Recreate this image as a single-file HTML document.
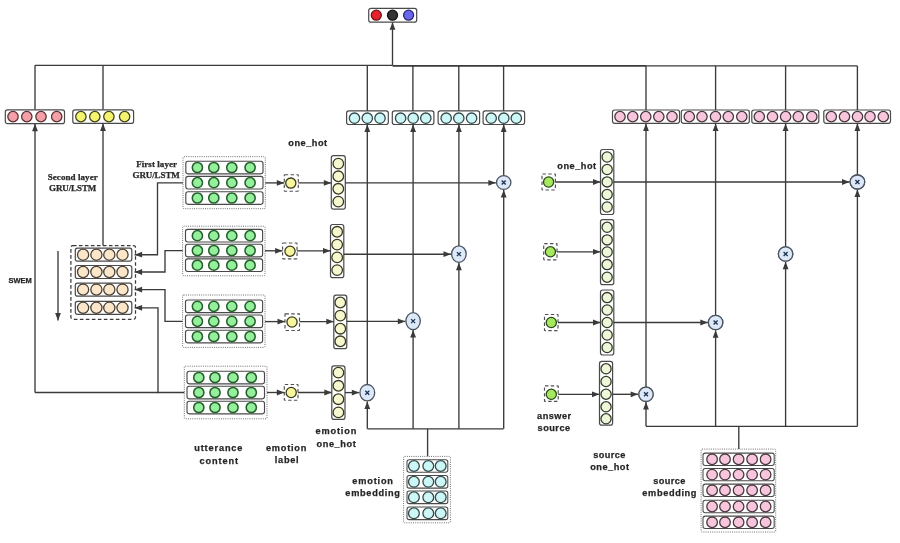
<!DOCTYPE html>
<html><head><meta charset="utf-8"><title>diagram</title>
<style>html,body{margin:0;padding:0;background:#fff;}body{width:900px;height:543px;overflow:hidden;font-family:"Liberation Sans",sans-serif;}svg{display:block;filter:blur(0.4px);}</style>
</head><body>
<svg width="900" height="543" viewBox="0 0 900 543">
<rect x="0" y="0" width="900" height="543" fill="#ffffff"/>
<rect x="368.7" y="8.4" width="48" height="13.7" rx="2.2" fill="#fff" stroke="#4a4a4a" stroke-width="1.2"/>
<circle cx="376.3" cy="15.2" r="5" fill="#e8222c" stroke="#6a1515" stroke-width="1.3"/>
<circle cx="392.5" cy="15.2" r="5" fill="#333333" stroke="#111111" stroke-width="1.3"/>
<circle cx="408.6" cy="15.2" r="5" fill="#6a66ee" stroke="#2a2a70" stroke-width="1.3"/>
<path d="M35 65.3 L392.5 65.3" fill="none" stroke="#3a3a3a" stroke-width="1.35"/>
<path d="M392.5 65.9 L646 65.9" fill="none" stroke="#3a3a3a" stroke-width="1.9"/>
<path d="M646 65.9 L857.4 65.9" fill="none" stroke="#3a3a3a" stroke-width="1.25"/>
<path d="M392.5 65.3 L392.5 22.3" fill="none" stroke="#3a3a3a" stroke-width="1.35"/>
<path d="M392.5 22.3 L395.4 29.8 L389.6 29.8 Z" fill="#3a3a3a"/>
<path d="M35 65.3 L35 109.8" fill="none" stroke="#3a3a3a" stroke-width="1.35"/>
<path d="M103 65.3 L103 109.8" fill="none" stroke="#3a3a3a" stroke-width="1.35"/>
<path d="M367.3 65.3 L367.3 111" fill="none" stroke="#3a3a3a" stroke-width="1.35"/>
<path d="M412.9 65.9 L412.9 111" fill="none" stroke="#3a3a3a" stroke-width="1.35"/>
<path d="M458.8 65.9 L458.8 111" fill="none" stroke="#3a3a3a" stroke-width="1.35"/>
<path d="M503.6 65.9 L503.6 111" fill="none" stroke="#3a3a3a" stroke-width="1.35"/>
<path d="M646 65.9 L646 110" fill="none" stroke="#3a3a3a" stroke-width="1.35"/>
<path d="M715.6 65.9 L715.6 110" fill="none" stroke="#3a3a3a" stroke-width="1.35"/>
<path d="M785.6 65.9 L785.6 110" fill="none" stroke="#3a3a3a" stroke-width="1.35"/>
<path d="M857.4 65.9 L857.4 110" fill="none" stroke="#3a3a3a" stroke-width="1.35"/>
<rect x="5.3" y="109.8" width="59.2" height="13.8" rx="2.2" fill="#fff" stroke="#4a4a4a" stroke-width="1.2"/>
<circle cx="13" cy="116.6" r="5.2" fill="#f5a0a8" stroke="#5a3434" stroke-width="1.3"/>
<circle cx="26.8" cy="116.6" r="5.2" fill="#f5a0a8" stroke="#5a3434" stroke-width="1.3"/>
<circle cx="41" cy="116.6" r="5.2" fill="#f5a0a8" stroke="#5a3434" stroke-width="1.3"/>
<circle cx="56.7" cy="116.6" r="5.2" fill="#f5a0a8" stroke="#5a3434" stroke-width="1.3"/>
<rect x="72.8" y="109.8" width="60.8" height="13.6" rx="2.2" fill="#fff" stroke="#4a4a4a" stroke-width="1.2"/>
<circle cx="80.9" cy="116.6" r="5.2" fill="#f4f46e" stroke="#45451c" stroke-width="1.3"/>
<circle cx="94.8" cy="116.6" r="5.2" fill="#f4f46e" stroke="#45451c" stroke-width="1.3"/>
<circle cx="108.9" cy="116.6" r="5.2" fill="#f4f46e" stroke="#45451c" stroke-width="1.3"/>
<circle cx="124.6" cy="116.6" r="5.2" fill="#f4f46e" stroke="#45451c" stroke-width="1.3"/>
<rect x="346.6" y="110.9" width="41.7" height="13.6" rx="2.2" fill="#fff" stroke="#4a4a4a" stroke-width="1.2"/>
<circle cx="354.5" cy="118.2" r="5.2" fill="#ccf7f6" stroke="#34494a" stroke-width="1.3"/>
<circle cx="367.3" cy="118.2" r="5.2" fill="#ccf7f6" stroke="#34494a" stroke-width="1.3"/>
<circle cx="380" cy="118.2" r="5.2" fill="#ccf7f6" stroke="#34494a" stroke-width="1.3"/>
<rect x="392.3" y="110.9" width="41.6" height="13.6" rx="2.2" fill="#fff" stroke="#4a4a4a" stroke-width="1.2"/>
<circle cx="400.6" cy="118.2" r="5.2" fill="#ccf7f6" stroke="#34494a" stroke-width="1.3"/>
<circle cx="413.2" cy="118.2" r="5.2" fill="#ccf7f6" stroke="#34494a" stroke-width="1.3"/>
<circle cx="425.8" cy="118.2" r="5.2" fill="#ccf7f6" stroke="#34494a" stroke-width="1.3"/>
<rect x="438.1" y="110.9" width="41.5" height="13.6" rx="2.2" fill="#fff" stroke="#4a4a4a" stroke-width="1.2"/>
<circle cx="446.2" cy="118.2" r="5.2" fill="#ccf7f6" stroke="#34494a" stroke-width="1.3"/>
<circle cx="458.8" cy="118.2" r="5.2" fill="#ccf7f6" stroke="#34494a" stroke-width="1.3"/>
<circle cx="471.6" cy="118.2" r="5.2" fill="#ccf7f6" stroke="#34494a" stroke-width="1.3"/>
<rect x="483.1" y="110.9" width="41.5" height="13.6" rx="2.2" fill="#fff" stroke="#4a4a4a" stroke-width="1.2"/>
<circle cx="491.2" cy="118.2" r="5.2" fill="#ccf7f6" stroke="#34494a" stroke-width="1.3"/>
<circle cx="503.8" cy="118.2" r="5.2" fill="#ccf7f6" stroke="#34494a" stroke-width="1.3"/>
<circle cx="516.3" cy="118.2" r="5.2" fill="#ccf7f6" stroke="#34494a" stroke-width="1.3"/>
<rect x="612.5" y="110" width="67" height="13.3" rx="2.2" fill="#fff" stroke="#4a4a4a" stroke-width="1.2"/>
<circle cx="620" cy="116.6" r="5.2" fill="#f7c6dc" stroke="#4a3840" stroke-width="1.3"/>
<circle cx="632.7" cy="116.6" r="5.2" fill="#f7c6dc" stroke="#4a3840" stroke-width="1.3"/>
<circle cx="645.75" cy="116.6" r="5.2" fill="#f7c6dc" stroke="#4a3840" stroke-width="1.3"/>
<circle cx="658.8" cy="116.6" r="5.2" fill="#f7c6dc" stroke="#4a3840" stroke-width="1.3"/>
<circle cx="672" cy="116.6" r="5.2" fill="#f7c6dc" stroke="#4a3840" stroke-width="1.3"/>
<rect x="681.3" y="110" width="68" height="13.3" rx="2.2" fill="#fff" stroke="#4a4a4a" stroke-width="1.2"/>
<circle cx="689.3" cy="116.6" r="5.2" fill="#f7c6dc" stroke="#4a3840" stroke-width="1.3"/>
<circle cx="702" cy="116.6" r="5.2" fill="#f7c6dc" stroke="#4a3840" stroke-width="1.3"/>
<circle cx="715.5" cy="116.6" r="5.2" fill="#f7c6dc" stroke="#4a3840" stroke-width="1.3"/>
<circle cx="728.3" cy="116.6" r="5.2" fill="#f7c6dc" stroke="#4a3840" stroke-width="1.3"/>
<circle cx="741.8" cy="116.6" r="5.2" fill="#f7c6dc" stroke="#4a3840" stroke-width="1.3"/>
<rect x="751.8" y="110" width="67" height="13.3" rx="2.2" fill="#fff" stroke="#4a4a4a" stroke-width="1.2"/>
<circle cx="759.3" cy="116.6" r="5.2" fill="#f7c6dc" stroke="#4a3840" stroke-width="1.3"/>
<circle cx="772.5" cy="116.6" r="5.2" fill="#f7c6dc" stroke="#4a3840" stroke-width="1.3"/>
<circle cx="785.6" cy="116.6" r="5.2" fill="#f7c6dc" stroke="#4a3840" stroke-width="1.3"/>
<circle cx="798.3" cy="116.6" r="5.2" fill="#f7c6dc" stroke="#4a3840" stroke-width="1.3"/>
<circle cx="811.8" cy="116.6" r="5.2" fill="#f7c6dc" stroke="#4a3840" stroke-width="1.3"/>
<rect x="823.8" y="110" width="66.7" height="13.3" rx="2.2" fill="#fff" stroke="#4a4a4a" stroke-width="1.2"/>
<circle cx="831.3" cy="116.6" r="5.2" fill="#f7c6dc" stroke="#4a3840" stroke-width="1.3"/>
<circle cx="844.5" cy="116.6" r="5.2" fill="#f7c6dc" stroke="#4a3840" stroke-width="1.3"/>
<circle cx="857.5" cy="116.6" r="5.2" fill="#f7c6dc" stroke="#4a3840" stroke-width="1.3"/>
<circle cx="870" cy="116.6" r="5.2" fill="#f7c6dc" stroke="#4a3840" stroke-width="1.3"/>
<circle cx="883.3" cy="116.6" r="5.2" fill="#f7c6dc" stroke="#4a3840" stroke-width="1.3"/>
<path d="M35 392.5 L35 123.8" fill="none" stroke="#3a3a3a" stroke-width="1.35"/>
<path d="M35 123.8 L37.9 131.3 L32.1 131.3 Z" fill="#3a3a3a"/>
<path d="M103 245.6 L103 123.5" fill="none" stroke="#3a3a3a" stroke-width="1.35"/>
<path d="M103 123.5 L105.9 131 L100.1 131 Z" fill="#3a3a3a"/>
<path d="M503.7 175.6 L503.7 124.4" fill="none" stroke="#3a3a3a" stroke-width="1.35"/>
<path d="M503.7 124.4 L506.6 131.9 L500.8 131.9 Z" fill="#3a3a3a"/>
<path d="M458.9 245.9 L458.9 124.4" fill="none" stroke="#3a3a3a" stroke-width="1.35"/>
<path d="M458.9 124.4 L461.8 131.9 L456 131.9 Z" fill="#3a3a3a"/>
<path d="M413.1 312.6 L413.1 124.4" fill="none" stroke="#3a3a3a" stroke-width="1.35"/>
<path d="M413.1 124.4 L416 131.9 L410.2 131.9 Z" fill="#3a3a3a"/>
<path d="M367.3 384.5 L367.3 124.4" fill="none" stroke="#3a3a3a" stroke-width="1.35"/>
<path d="M367.3 124.4 L370.2 131.9 L364.4 131.9 Z" fill="#3a3a3a"/>
<path d="M857.4 175 L857.4 123.4" fill="none" stroke="#3a3a3a" stroke-width="1.35"/>
<path d="M857.4 123.4 L860.3 130.9 L854.5 130.9 Z" fill="#3a3a3a"/>
<path d="M785.6 246.8 L785.6 123.4" fill="none" stroke="#3a3a3a" stroke-width="1.35"/>
<path d="M785.6 123.4 L788.5 130.9 L782.7 130.9 Z" fill="#3a3a3a"/>
<path d="M715.6 315.3 L715.6 123.4" fill="none" stroke="#3a3a3a" stroke-width="1.35"/>
<path d="M715.6 123.4 L718.5 130.9 L712.7 130.9 Z" fill="#3a3a3a"/>
<path d="M646 387.1 L646 123.4" fill="none" stroke="#3a3a3a" stroke-width="1.35"/>
<path d="M646 123.4 L648.9 130.9 L643.1 130.9 Z" fill="#3a3a3a"/>
<path d="M367.3 428.8 L503.6 428.8" fill="none" stroke="#3a3a3a" stroke-width="1.35"/>
<path d="M503.7 428.8 L503.7 189.9" fill="none" stroke="#3a3a3a" stroke-width="1.35"/>
<path d="M503.7 189.9 L506.6 197.4 L500.8 197.4 Z" fill="#3a3a3a"/>
<path d="M458.9 428.8 L458.9 262.8" fill="none" stroke="#3a3a3a" stroke-width="1.35"/>
<path d="M458.9 262.8 L461.8 270.3 L456 270.3 Z" fill="#3a3a3a"/>
<path d="M413.1 428.8 L413.1 330.1" fill="none" stroke="#3a3a3a" stroke-width="1.35"/>
<path d="M413.1 330.1 L416 337.6 L410.2 337.6 Z" fill="#3a3a3a"/>
<path d="M367.3 428.8 L367.3 401.4" fill="none" stroke="#3a3a3a" stroke-width="1.35"/>
<path d="M367.3 401.4 L370.2 408.9 L364.4 408.9 Z" fill="#3a3a3a"/>
<path d="M427.6 428.8 L427.6 456.3" fill="none" stroke="#3a3a3a" stroke-width="1.35"/>
<path d="M646 426.3 L857.4 426.3" fill="none" stroke="#3a3a3a" stroke-width="1.35"/>
<path d="M857.4 426.3 L857.4 189.5" fill="none" stroke="#3a3a3a" stroke-width="1.35"/>
<path d="M857.4 189.5 L860.3 197 L854.5 197 Z" fill="#3a3a3a"/>
<path d="M785.6 426.3 L785.6 261.7" fill="none" stroke="#3a3a3a" stroke-width="1.35"/>
<path d="M785.6 261.7 L788.5 269.2 L782.7 269.2 Z" fill="#3a3a3a"/>
<path d="M715.6 426.3 L715.6 330.2" fill="none" stroke="#3a3a3a" stroke-width="1.35"/>
<path d="M715.6 330.2 L718.5 337.7 L712.7 337.7 Z" fill="#3a3a3a"/>
<path d="M646 426.3 L646 402" fill="none" stroke="#3a3a3a" stroke-width="1.35"/>
<path d="M646 402 L648.9 409.5 L643.1 409.5 Z" fill="#3a3a3a"/>
<path d="M738.8 426.3 L738.8 449" fill="none" stroke="#3a3a3a" stroke-width="1.35"/>
<rect x="183" y="156.7" width="82.3" height="52" rx="1" fill="none" stroke="#707070" stroke-width="1" stroke-dasharray="1 1.2"/>
<rect x="185.8" y="161.2" width="77.2" height="12.6" rx="2.2" fill="#fff" stroke="#4a4a4a" stroke-width="1.15"/>
<circle cx="197.4" cy="167.5" r="5.1" fill="#95f09d" stroke="#25602a" stroke-width="1.55"/>
<circle cx="213.8" cy="167.5" r="5.1" fill="#95f09d" stroke="#25602a" stroke-width="1.55"/>
<circle cx="231.8" cy="167.5" r="5.1" fill="#95f09d" stroke="#25602a" stroke-width="1.55"/>
<circle cx="250.1" cy="167.5" r="5.1" fill="#95f09d" stroke="#25602a" stroke-width="1.55"/>
<rect x="185.8" y="176.4" width="77.2" height="12.6" rx="2.2" fill="#fff" stroke="#4a4a4a" stroke-width="1.15"/>
<circle cx="197.4" cy="182.7" r="5.1" fill="#95f09d" stroke="#25602a" stroke-width="1.55"/>
<circle cx="213.8" cy="182.7" r="5.1" fill="#95f09d" stroke="#25602a" stroke-width="1.55"/>
<circle cx="231.8" cy="182.7" r="5.1" fill="#95f09d" stroke="#25602a" stroke-width="1.55"/>
<circle cx="250.1" cy="182.7" r="5.1" fill="#95f09d" stroke="#25602a" stroke-width="1.55"/>
<rect x="185.8" y="191.7" width="77.2" height="12.6" rx="2.2" fill="#fff" stroke="#4a4a4a" stroke-width="1.15"/>
<circle cx="197.4" cy="198" r="5.1" fill="#95f09d" stroke="#25602a" stroke-width="1.55"/>
<circle cx="213.8" cy="198" r="5.1" fill="#95f09d" stroke="#25602a" stroke-width="1.55"/>
<circle cx="231.8" cy="198" r="5.1" fill="#95f09d" stroke="#25602a" stroke-width="1.55"/>
<circle cx="250.1" cy="198" r="5.1" fill="#95f09d" stroke="#25602a" stroke-width="1.55"/>
<rect x="182.6" y="226.2" width="82.4" height="49.6" rx="1" fill="none" stroke="#707070" stroke-width="1" stroke-dasharray="1 1.2"/>
<rect x="185.5" y="229.4" width="77.1" height="12.6" rx="2.2" fill="#fff" stroke="#4a4a4a" stroke-width="1.15"/>
<circle cx="197.4" cy="235.7" r="5.1" fill="#95f09d" stroke="#25602a" stroke-width="1.55"/>
<circle cx="213.8" cy="235.7" r="5.1" fill="#95f09d" stroke="#25602a" stroke-width="1.55"/>
<circle cx="231.8" cy="235.7" r="5.1" fill="#95f09d" stroke="#25602a" stroke-width="1.55"/>
<circle cx="250.1" cy="235.7" r="5.1" fill="#95f09d" stroke="#25602a" stroke-width="1.55"/>
<rect x="185.5" y="244.2" width="77.1" height="12.6" rx="2.2" fill="#fff" stroke="#4a4a4a" stroke-width="1.15"/>
<circle cx="197.4" cy="250.5" r="5.1" fill="#95f09d" stroke="#25602a" stroke-width="1.55"/>
<circle cx="213.8" cy="250.5" r="5.1" fill="#95f09d" stroke="#25602a" stroke-width="1.55"/>
<circle cx="231.8" cy="250.5" r="5.1" fill="#95f09d" stroke="#25602a" stroke-width="1.55"/>
<circle cx="250.1" cy="250.5" r="5.1" fill="#95f09d" stroke="#25602a" stroke-width="1.55"/>
<rect x="185.5" y="258.9" width="77.1" height="12.6" rx="2.2" fill="#fff" stroke="#4a4a4a" stroke-width="1.15"/>
<circle cx="197.4" cy="265.2" r="5.1" fill="#95f09d" stroke="#25602a" stroke-width="1.55"/>
<circle cx="213.8" cy="265.2" r="5.1" fill="#95f09d" stroke="#25602a" stroke-width="1.55"/>
<circle cx="231.8" cy="265.2" r="5.1" fill="#95f09d" stroke="#25602a" stroke-width="1.55"/>
<circle cx="250.1" cy="265.2" r="5.1" fill="#95f09d" stroke="#25602a" stroke-width="1.55"/>
<rect x="182.6" y="295" width="82.4" height="52.4" rx="1" fill="none" stroke="#707070" stroke-width="1" stroke-dasharray="1 1.2"/>
<rect x="185.5" y="300" width="77.1" height="12.6" rx="2.2" fill="#fff" stroke="#4a4a4a" stroke-width="1.15"/>
<circle cx="197.4" cy="306.3" r="5.1" fill="#95f09d" stroke="#25602a" stroke-width="1.55"/>
<circle cx="213.8" cy="306.3" r="5.1" fill="#95f09d" stroke="#25602a" stroke-width="1.55"/>
<circle cx="231.8" cy="306.3" r="5.1" fill="#95f09d" stroke="#25602a" stroke-width="1.55"/>
<circle cx="250.1" cy="306.3" r="5.1" fill="#95f09d" stroke="#25602a" stroke-width="1.55"/>
<rect x="185.5" y="315" width="77.1" height="12.6" rx="2.2" fill="#fff" stroke="#4a4a4a" stroke-width="1.15"/>
<circle cx="197.4" cy="321.3" r="5.1" fill="#95f09d" stroke="#25602a" stroke-width="1.55"/>
<circle cx="213.8" cy="321.3" r="5.1" fill="#95f09d" stroke="#25602a" stroke-width="1.55"/>
<circle cx="231.8" cy="321.3" r="5.1" fill="#95f09d" stroke="#25602a" stroke-width="1.55"/>
<circle cx="250.1" cy="321.3" r="5.1" fill="#95f09d" stroke="#25602a" stroke-width="1.55"/>
<rect x="185.5" y="330.2" width="77.1" height="12.6" rx="2.2" fill="#fff" stroke="#4a4a4a" stroke-width="1.15"/>
<circle cx="197.4" cy="336.5" r="5.1" fill="#95f09d" stroke="#25602a" stroke-width="1.55"/>
<circle cx="213.8" cy="336.5" r="5.1" fill="#95f09d" stroke="#25602a" stroke-width="1.55"/>
<circle cx="231.8" cy="336.5" r="5.1" fill="#95f09d" stroke="#25602a" stroke-width="1.55"/>
<circle cx="250.1" cy="336.5" r="5.1" fill="#95f09d" stroke="#25602a" stroke-width="1.55"/>
<rect x="184.3" y="366.2" width="82.7" height="52.6" rx="1" fill="none" stroke="#707070" stroke-width="1" stroke-dasharray="1 1.2"/>
<rect x="187" y="371.2" width="77.5" height="12.6" rx="2.2" fill="#fff" stroke="#4a4a4a" stroke-width="1.15"/>
<circle cx="198.8" cy="377.5" r="5.1" fill="#95f09d" stroke="#25602a" stroke-width="1.55"/>
<circle cx="215" cy="377.5" r="5.1" fill="#95f09d" stroke="#25602a" stroke-width="1.55"/>
<circle cx="233" cy="377.5" r="5.1" fill="#95f09d" stroke="#25602a" stroke-width="1.55"/>
<circle cx="251.3" cy="377.5" r="5.1" fill="#95f09d" stroke="#25602a" stroke-width="1.55"/>
<rect x="187" y="386.2" width="77.5" height="12.6" rx="2.2" fill="#fff" stroke="#4a4a4a" stroke-width="1.15"/>
<circle cx="198.8" cy="392.5" r="5.1" fill="#95f09d" stroke="#25602a" stroke-width="1.55"/>
<circle cx="215" cy="392.5" r="5.1" fill="#95f09d" stroke="#25602a" stroke-width="1.55"/>
<circle cx="233" cy="392.5" r="5.1" fill="#95f09d" stroke="#25602a" stroke-width="1.55"/>
<circle cx="251.3" cy="392.5" r="5.1" fill="#95f09d" stroke="#25602a" stroke-width="1.55"/>
<rect x="187" y="401.2" width="77.5" height="12.6" rx="2.2" fill="#fff" stroke="#4a4a4a" stroke-width="1.15"/>
<circle cx="198.8" cy="407.5" r="5.1" fill="#95f09d" stroke="#25602a" stroke-width="1.55"/>
<circle cx="215" cy="407.5" r="5.1" fill="#95f09d" stroke="#25602a" stroke-width="1.55"/>
<circle cx="233" cy="407.5" r="5.1" fill="#95f09d" stroke="#25602a" stroke-width="1.55"/>
<circle cx="251.3" cy="407.5" r="5.1" fill="#95f09d" stroke="#25602a" stroke-width="1.55"/>
<rect x="284.3" y="174.7" width="14" height="16.5" rx="0.5" fill="#fff" stroke="#505050" stroke-width="1.15" stroke-dasharray="3.4 2.4"/>
<circle cx="290.8" cy="183.1" r="5.1" fill="#f7f59e" stroke="#3a3a1a" stroke-width="1.3"/>
<rect x="331.3" y="155.7" width="14" height="53.5" rx="2.2" fill="#fff" stroke="#4a4a4a" stroke-width="1.2"/>
<circle cx="338.3" cy="163.6" r="5.3" fill="#f7f7d0" stroke="#3a3a22" stroke-width="1.3"/>
<circle cx="338.3" cy="176.3" r="5.3" fill="#f7f7d0" stroke="#3a3a22" stroke-width="1.3"/>
<circle cx="338.3" cy="188.8" r="5.3" fill="#f7f7d0" stroke="#3a3a22" stroke-width="1.3"/>
<circle cx="338.3" cy="201.6" r="5.3" fill="#f7f7d0" stroke="#3a3a22" stroke-width="1.3"/>
<path d="M265.3 182.9 L284.3 182.9" fill="none" stroke="#3a3a3a" stroke-width="1.35"/>
<path d="M284.3 182.9 L276.8 185.8 L276.8 180 Z" fill="#3a3a3a"/>
<path d="M298.3 182.9 L331.3 182.9" fill="none" stroke="#3a3a3a" stroke-width="1.35"/>
<path d="M331.3 182.9 L323.8 185.8 L323.8 180 Z" fill="#3a3a3a"/>
<rect x="282.6" y="243" width="14.4" height="15.8" rx="0.5" fill="#fff" stroke="#505050" stroke-width="1.15" stroke-dasharray="3.4 2.4"/>
<circle cx="290" cy="251.2" r="5.1" fill="#f7f59e" stroke="#3a3a1a" stroke-width="1.3"/>
<rect x="330.5" y="224.5" width="13.3" height="53.1" rx="2.2" fill="#fff" stroke="#4a4a4a" stroke-width="1.2"/>
<circle cx="337.15" cy="231.8" r="5.3" fill="#f7f7d0" stroke="#3a3a22" stroke-width="1.3"/>
<circle cx="337.15" cy="244.6" r="5.3" fill="#f7f7d0" stroke="#3a3a22" stroke-width="1.3"/>
<circle cx="337.15" cy="257.4" r="5.3" fill="#f7f7d0" stroke="#3a3a22" stroke-width="1.3"/>
<circle cx="337.15" cy="270.1" r="5.3" fill="#f7f7d0" stroke="#3a3a22" stroke-width="1.3"/>
<path d="M265 250.8 L282.6 250.8" fill="none" stroke="#3a3a3a" stroke-width="1.35"/>
<path d="M282.6 250.8 L275.1 253.7 L275.1 247.9 Z" fill="#3a3a3a"/>
<path d="M297 250.8 L330.5 250.8" fill="none" stroke="#3a3a3a" stroke-width="1.35"/>
<path d="M330.5 250.8 L323 253.7 L323 247.9 Z" fill="#3a3a3a"/>
<rect x="285" y="313.8" width="14.5" height="16.7" rx="0.5" fill="#fff" stroke="#505050" stroke-width="1.15" stroke-dasharray="3.4 2.4"/>
<circle cx="292" cy="322" r="5.1" fill="#f7f59e" stroke="#3a3a1a" stroke-width="1.3"/>
<rect x="333.8" y="295.2" width="13" height="53.4" rx="2.2" fill="#fff" stroke="#4a4a4a" stroke-width="1.2"/>
<circle cx="340.3" cy="302.5" r="5.3" fill="#f7f7d0" stroke="#3a3a22" stroke-width="1.3"/>
<circle cx="340.3" cy="315.6" r="5.3" fill="#f7f7d0" stroke="#3a3a22" stroke-width="1.3"/>
<circle cx="340.3" cy="328.7" r="5.3" fill="#f7f7d0" stroke="#3a3a22" stroke-width="1.3"/>
<circle cx="340.3" cy="341.3" r="5.3" fill="#f7f7d0" stroke="#3a3a22" stroke-width="1.3"/>
<path d="M265 321.6 L285 321.6" fill="none" stroke="#3a3a3a" stroke-width="1.35"/>
<path d="M285 321.6 L277.5 324.5 L277.5 318.7 Z" fill="#3a3a3a"/>
<path d="M299.5 321.6 L333.8 321.6" fill="none" stroke="#3a3a3a" stroke-width="1.35"/>
<path d="M333.8 321.6 L326.3 324.5 L326.3 318.7 Z" fill="#3a3a3a"/>
<rect x="284.3" y="384.5" width="13.7" height="15.7" rx="0.5" fill="#fff" stroke="#505050" stroke-width="1.15" stroke-dasharray="3.4 2.4"/>
<circle cx="291.2" cy="392.5" r="5.1" fill="#f7f59e" stroke="#3a3a1a" stroke-width="1.3"/>
<rect x="331.8" y="365.8" width="13.2" height="53.6" rx="2.2" fill="#fff" stroke="#4a4a4a" stroke-width="1.2"/>
<circle cx="338.4" cy="372.6" r="5.3" fill="#f7f7d0" stroke="#3a3a22" stroke-width="1.3"/>
<circle cx="338.4" cy="385.8" r="5.3" fill="#f7f7d0" stroke="#3a3a22" stroke-width="1.3"/>
<circle cx="338.4" cy="399.2" r="5.3" fill="#f7f7d0" stroke="#3a3a22" stroke-width="1.3"/>
<circle cx="338.4" cy="412.4" r="5.3" fill="#f7f7d0" stroke="#3a3a22" stroke-width="1.3"/>
<path d="M267 392.5 L284.3 392.5" fill="none" stroke="#3a3a3a" stroke-width="1.35"/>
<path d="M284.3 392.5 L276.8 395.4 L276.8 389.6 Z" fill="#3a3a3a"/>
<path d="M298 392.5 L331.8 392.5" fill="none" stroke="#3a3a3a" stroke-width="1.35"/>
<path d="M331.8 392.5 L324.3 395.4 L324.3 389.6 Z" fill="#3a3a3a"/>
<path d="M345.3 182.8 L495.9 182.8" fill="none" stroke="#3a3a3a" stroke-width="1.35"/>
<path d="M495.9 182.8 L488.4 185.7 L488.4 179.9 Z" fill="#3a3a3a"/>
<path d="M343.8 254.2 L451 254.2" fill="none" stroke="#3a3a3a" stroke-width="1.35"/>
<path d="M451 254.2 L443.5 257.1 L443.5 251.3 Z" fill="#3a3a3a"/>
<path d="M346.8 321.4 L405.3 321.4" fill="none" stroke="#3a3a3a" stroke-width="1.35"/>
<path d="M405.3 321.4 L397.8 324.3 L397.8 318.5 Z" fill="#3a3a3a"/>
<path d="M345 392.6 L359.3 392.6" fill="none" stroke="#3a3a3a" stroke-width="1.35"/>
<path d="M359.3 392.6 L351.8 395.5 L351.8 389.7 Z" fill="#3a3a3a"/>
<path d="M183 182.9 L157.5 182.9 L157.5 254.7 L134.6 254.7" fill="none" stroke="#3a3a3a" stroke-width="1.35"/>
<path d="M134.6 254.7 L142.1 251.8 L142.1 257.6 Z" fill="#3a3a3a"/>
<path d="M182.6 250.6 L165 250.6 L165 272 L134.6 272" fill="none" stroke="#3a3a3a" stroke-width="1.35"/>
<path d="M134.6 272 L142.1 269.1 L142.1 274.9 Z" fill="#3a3a3a"/>
<path d="M182.6 321.3 L165 321.3 L165 289.6 L134.6 289.6" fill="none" stroke="#3a3a3a" stroke-width="1.35"/>
<path d="M134.6 289.6 L142.1 286.7 L142.1 292.5 Z" fill="#3a3a3a"/>
<path d="M184.3 392.5 L158 392.5 L158 307.8 L134.6 307.8" fill="none" stroke="#3a3a3a" stroke-width="1.35"/>
<path d="M134.6 307.8 L142.1 304.9 L142.1 310.7 Z" fill="#3a3a3a"/>
<path d="M158 392.5 L35 392.5" fill="none" stroke="#3a3a3a" stroke-width="1.35"/>
<rect x="70.9" y="245.6" width="64.6" height="73.7" rx="2" fill="none" stroke="#3a3a3a" stroke-width="1.25" stroke-dasharray="3.6 2.4"/>
<rect x="75.3" y="248.2" width="56.5" height="13" rx="2.2" fill="#fff" stroke="#4a4a4a" stroke-width="1.2"/>
<circle cx="83.1" cy="254.7" r="5.6" fill="#fbe6ca" stroke="#4a4035" stroke-width="1.3"/>
<circle cx="96.4" cy="254.7" r="5.6" fill="#fbe6ca" stroke="#4a4035" stroke-width="1.3"/>
<circle cx="109.3" cy="254.7" r="5.6" fill="#fbe6ca" stroke="#4a4035" stroke-width="1.3"/>
<circle cx="122.5" cy="254.7" r="5.6" fill="#fbe6ca" stroke="#4a4035" stroke-width="1.3"/>
<rect x="75.3" y="265.5" width="56.5" height="13" rx="2.2" fill="#fff" stroke="#4a4a4a" stroke-width="1.2"/>
<circle cx="83.1" cy="272" r="5.6" fill="#fbe6ca" stroke="#4a4035" stroke-width="1.3"/>
<circle cx="96.4" cy="272" r="5.6" fill="#fbe6ca" stroke="#4a4035" stroke-width="1.3"/>
<circle cx="109.3" cy="272" r="5.6" fill="#fbe6ca" stroke="#4a4035" stroke-width="1.3"/>
<circle cx="122.5" cy="272" r="5.6" fill="#fbe6ca" stroke="#4a4035" stroke-width="1.3"/>
<rect x="75.3" y="283.1" width="56.5" height="13" rx="2.2" fill="#fff" stroke="#4a4a4a" stroke-width="1.2"/>
<circle cx="83.1" cy="289.6" r="5.6" fill="#fbe6ca" stroke="#4a4035" stroke-width="1.3"/>
<circle cx="96.4" cy="289.6" r="5.6" fill="#fbe6ca" stroke="#4a4035" stroke-width="1.3"/>
<circle cx="109.3" cy="289.6" r="5.6" fill="#fbe6ca" stroke="#4a4035" stroke-width="1.3"/>
<circle cx="122.5" cy="289.6" r="5.6" fill="#fbe6ca" stroke="#4a4035" stroke-width="1.3"/>
<rect x="75.3" y="301.3" width="56.5" height="13" rx="2.2" fill="#fff" stroke="#4a4a4a" stroke-width="1.2"/>
<circle cx="83.1" cy="307.8" r="5.6" fill="#fbe6ca" stroke="#4a4035" stroke-width="1.3"/>
<circle cx="96.4" cy="307.8" r="5.6" fill="#fbe6ca" stroke="#4a4035" stroke-width="1.3"/>
<circle cx="109.3" cy="307.8" r="5.6" fill="#fbe6ca" stroke="#4a4035" stroke-width="1.3"/>
<circle cx="122.5" cy="307.8" r="5.6" fill="#fbe6ca" stroke="#4a4035" stroke-width="1.3"/>
<path d="M58 251 L58 320.5" fill="none" stroke="#3a3a3a" stroke-width="1.35"/>
<path d="M58 320.5 L55.1 313 L60.9 313 Z" fill="#3a3a3a"/>
<ellipse cx="503.7" cy="182.5" rx="7.2" ry="6.9" fill="#dde8f8" stroke="#4a5560" stroke-width="1.3"/>
<path d="M501.7 180.5 L505.7 184.5 M505.7 180.5 L501.7 184.5" stroke="#1e3350" stroke-width="1.3"/>
<ellipse cx="458.9" cy="254.1" rx="7.3" ry="8.2" fill="#dde8f8" stroke="#4a5560" stroke-width="1.3"/>
<path d="M456.9 252.1 L460.9 256.1 M460.9 252.1 L456.9 256.1" stroke="#1e3350" stroke-width="1.3"/>
<ellipse cx="413.1" cy="321.1" rx="7.2" ry="8.5" fill="#dde8f8" stroke="#4a5560" stroke-width="1.3"/>
<path d="M411.1 319.1 L415.1 323.1 M415.1 319.1 L411.1 323.1" stroke="#1e3350" stroke-width="1.3"/>
<ellipse cx="367.3" cy="392.7" rx="7.4" ry="8.2" fill="#dde8f8" stroke="#4a5560" stroke-width="1.3"/>
<path d="M365.3 390.7 L369.3 394.7 M369.3 390.7 L365.3 394.7" stroke="#1e3350" stroke-width="1.3"/>
<ellipse cx="857.4" cy="182" rx="7.3" ry="7" fill="#dde8f8" stroke="#4a5560" stroke-width="1.3"/>
<path d="M855.4 180 L859.4 184 M859.4 180 L855.4 184" stroke="#1e3350" stroke-width="1.3"/>
<ellipse cx="785.6" cy="254" rx="7.2" ry="7.2" fill="#dde8f8" stroke="#4a5560" stroke-width="1.3"/>
<path d="M783.6 252 L787.6 256 M787.6 252 L783.6 256" stroke="#1e3350" stroke-width="1.3"/>
<ellipse cx="715.6" cy="322.5" rx="7.2" ry="7.2" fill="#dde8f8" stroke="#4a5560" stroke-width="1.3"/>
<path d="M713.6 320.5 L717.6 324.5 M717.6 320.5 L713.6 324.5" stroke="#1e3350" stroke-width="1.3"/>
<ellipse cx="646" cy="394.3" rx="7.2" ry="7.2" fill="#dde8f8" stroke="#4a5560" stroke-width="1.3"/>
<path d="M644 392.3 L648 396.3 M648 392.3 L644 396.3" stroke="#1e3350" stroke-width="1.3"/>
<rect x="542" y="174" width="13.4" height="16" rx="0.5" fill="#fff" stroke="#505050" stroke-width="1.15" stroke-dasharray="3.4 2.4"/>
<circle cx="548.6" cy="182" r="5.1" fill="#a6e85e" stroke="#2a4a1a" stroke-width="1.3"/>
<path d="M555.4 182 L600.5 182" fill="none" stroke="#3a3a3a" stroke-width="1.35"/>
<path d="M600.5 182 L593 184.9 L593 179.1 Z" fill="#3a3a3a"/>
<rect x="600.5" y="149.5" width="13.3" height="65" rx="2.2" fill="#fff" stroke="#4a4a4a" stroke-width="1.2"/>
<circle cx="607.15" cy="157" r="5.1" fill="#eef8d8" stroke="#343a2c" stroke-width="1.3"/>
<circle cx="607.15" cy="169.5" r="5.1" fill="#eef8d8" stroke="#343a2c" stroke-width="1.3"/>
<circle cx="607.15" cy="181.9" r="5.1" fill="#eef8d8" stroke="#343a2c" stroke-width="1.3"/>
<circle cx="607.15" cy="194.5" r="5.1" fill="#eef8d8" stroke="#343a2c" stroke-width="1.3"/>
<circle cx="607.15" cy="207" r="5.1" fill="#eef8d8" stroke="#343a2c" stroke-width="1.3"/>
<rect x="543.7" y="243.6" width="13.3" height="16.2" rx="0.5" fill="#fff" stroke="#505050" stroke-width="1.15" stroke-dasharray="3.4 2.4"/>
<circle cx="550.4" cy="251.8" r="5.1" fill="#a6e85e" stroke="#2a4a1a" stroke-width="1.3"/>
<path d="M557 251.8 L600.5 251.8" fill="none" stroke="#3a3a3a" stroke-width="1.35"/>
<path d="M600.5 251.8 L593 254.7 L593 248.9 Z" fill="#3a3a3a"/>
<rect x="600.5" y="219.6" width="13.3" height="65" rx="2.2" fill="#fff" stroke="#4a4a4a" stroke-width="1.2"/>
<circle cx="607.15" cy="227.3" r="5.1" fill="#eef8d8" stroke="#343a2c" stroke-width="1.3"/>
<circle cx="607.15" cy="239.9" r="5.1" fill="#eef8d8" stroke="#343a2c" stroke-width="1.3"/>
<circle cx="607.15" cy="252" r="5.1" fill="#eef8d8" stroke="#343a2c" stroke-width="1.3"/>
<circle cx="607.15" cy="264.6" r="5.1" fill="#eef8d8" stroke="#343a2c" stroke-width="1.3"/>
<circle cx="607.15" cy="277.2" r="5.1" fill="#eef8d8" stroke="#343a2c" stroke-width="1.3"/>
<rect x="544.5" y="314.5" width="13.5" height="16.1" rx="0.5" fill="#fff" stroke="#505050" stroke-width="1.15" stroke-dasharray="3.4 2.4"/>
<circle cx="551.3" cy="322.5" r="5.1" fill="#a6e85e" stroke="#2a4a1a" stroke-width="1.3"/>
<path d="M558 322.5 L600.5 322.5" fill="none" stroke="#3a3a3a" stroke-width="1.35"/>
<path d="M600.5 322.5 L593 325.4 L593 319.6 Z" fill="#3a3a3a"/>
<rect x="600.5" y="290" width="13.3" height="65" rx="2.2" fill="#fff" stroke="#4a4a4a" stroke-width="1.2"/>
<circle cx="607.15" cy="297.6" r="5.1" fill="#eef8d8" stroke="#343a2c" stroke-width="1.3"/>
<circle cx="607.15" cy="310" r="5.1" fill="#eef8d8" stroke="#343a2c" stroke-width="1.3"/>
<circle cx="607.15" cy="322.5" r="5.1" fill="#eef8d8" stroke="#343a2c" stroke-width="1.3"/>
<circle cx="607.15" cy="335" r="5.1" fill="#eef8d8" stroke="#343a2c" stroke-width="1.3"/>
<circle cx="607.15" cy="347.5" r="5.1" fill="#eef8d8" stroke="#343a2c" stroke-width="1.3"/>
<rect x="544.5" y="385.8" width="13.7" height="15.6" rx="0.5" fill="#fff" stroke="#505050" stroke-width="1.15" stroke-dasharray="3.4 2.4"/>
<circle cx="551.3" cy="394.3" r="5.1" fill="#a6e85e" stroke="#2a4a1a" stroke-width="1.3"/>
<path d="M558.2 394.3 L599.5 394.3" fill="none" stroke="#3a3a3a" stroke-width="1.35"/>
<path d="M599.5 394.3 L592 397.2 L592 391.4 Z" fill="#3a3a3a"/>
<rect x="599.5" y="361.3" width="13.1" height="63.9" rx="2.2" fill="#fff" stroke="#4a4a4a" stroke-width="1.2"/>
<circle cx="606.05" cy="368.8" r="5.1" fill="#eef8d8" stroke="#343a2c" stroke-width="1.3"/>
<circle cx="606.05" cy="381.5" r="5.1" fill="#eef8d8" stroke="#343a2c" stroke-width="1.3"/>
<circle cx="606.05" cy="394.2" r="5.1" fill="#eef8d8" stroke="#343a2c" stroke-width="1.3"/>
<circle cx="606.05" cy="406.8" r="5.1" fill="#eef8d8" stroke="#343a2c" stroke-width="1.3"/>
<circle cx="606.05" cy="418.8" r="5.1" fill="#eef8d8" stroke="#343a2c" stroke-width="1.3"/>
<path d="M613.8 182 L849.5 182" fill="none" stroke="#3a3a3a" stroke-width="1.35"/>
<path d="M849.5 182 L842 184.9 L842 179.1 Z" fill="#3a3a3a"/>
<path d="M613.8 322.5 L707.8 322.5" fill="none" stroke="#3a3a3a" stroke-width="1.35"/>
<path d="M707.8 322.5 L700.3 325.4 L700.3 319.6 Z" fill="#3a3a3a"/>
<path d="M612.6 394.3 L638.2 394.3" fill="none" stroke="#3a3a3a" stroke-width="1.35"/>
<path d="M638.2 394.3 L630.7 397.2 L630.7 391.4 Z" fill="#3a3a3a"/>
<ellipse cx="857.4" cy="182" rx="7.3" ry="7" fill="#dde8f8" stroke="#4a5560" stroke-width="1.3"/>
<path d="M855.4 180 L859.4 184 M859.4 180 L855.4 184" stroke="#1e3350" stroke-width="1.3"/>
<ellipse cx="785.6" cy="254" rx="7.2" ry="7.2" fill="#dde8f8" stroke="#4a5560" stroke-width="1.3"/>
<path d="M783.6 252 L787.6 256 M787.6 252 L783.6 256" stroke="#1e3350" stroke-width="1.3"/>
<ellipse cx="715.6" cy="322.5" rx="7.2" ry="7.2" fill="#dde8f8" stroke="#4a5560" stroke-width="1.3"/>
<path d="M713.6 320.5 L717.6 324.5 M717.6 320.5 L713.6 324.5" stroke="#1e3350" stroke-width="1.3"/>
<ellipse cx="646" cy="394.3" rx="7.2" ry="7.2" fill="#dde8f8" stroke="#4a5560" stroke-width="1.3"/>
<path d="M644 392.3 L648 396.3 M648 392.3 L644 396.3" stroke="#1e3350" stroke-width="1.3"/>
<rect x="403.6" y="456.4" width="46.8" height="66.4" rx="1" fill="none" stroke="#707070" stroke-width="1" stroke-dasharray="1 1.2"/>
<rect x="407" y="459.7" width="40.8" height="12.6" rx="2.2" fill="#fff" stroke="#4a4a4a" stroke-width="1.05"/>
<circle cx="413.9" cy="466" r="5.4" fill="#ccf7f6" stroke="#34494a" stroke-width="1.3"/>
<circle cx="428.3" cy="466" r="5.4" fill="#ccf7f6" stroke="#34494a" stroke-width="1.3"/>
<circle cx="440.7" cy="466" r="5.4" fill="#ccf7f6" stroke="#34494a" stroke-width="1.3"/>
<rect x="407" y="475.5" width="40.8" height="12.6" rx="2.2" fill="#fff" stroke="#4a4a4a" stroke-width="1.05"/>
<circle cx="413.9" cy="481.8" r="5.4" fill="#ccf7f6" stroke="#34494a" stroke-width="1.3"/>
<circle cx="428.3" cy="481.8" r="5.4" fill="#ccf7f6" stroke="#34494a" stroke-width="1.3"/>
<circle cx="440.7" cy="481.8" r="5.4" fill="#ccf7f6" stroke="#34494a" stroke-width="1.3"/>
<rect x="407" y="491" width="40.8" height="12.6" rx="2.2" fill="#fff" stroke="#4a4a4a" stroke-width="1.05"/>
<circle cx="413.9" cy="497.3" r="5.4" fill="#ccf7f6" stroke="#34494a" stroke-width="1.3"/>
<circle cx="428.3" cy="497.3" r="5.4" fill="#ccf7f6" stroke="#34494a" stroke-width="1.3"/>
<circle cx="440.7" cy="497.3" r="5.4" fill="#ccf7f6" stroke="#34494a" stroke-width="1.3"/>
<rect x="407" y="507" width="40.8" height="12.6" rx="2.2" fill="#fff" stroke="#4a4a4a" stroke-width="1.05"/>
<circle cx="413.9" cy="513.3" r="5.4" fill="#ccf7f6" stroke="#34494a" stroke-width="1.3"/>
<circle cx="428.3" cy="513.3" r="5.4" fill="#ccf7f6" stroke="#34494a" stroke-width="1.3"/>
<circle cx="440.7" cy="513.3" r="5.4" fill="#ccf7f6" stroke="#34494a" stroke-width="1.3"/>
<rect x="701.1" y="449.1" width="74.6" height="82.9" rx="1" fill="none" stroke="#707070" stroke-width="1" stroke-dasharray="1 1.2"/>
<rect x="703" y="453.1" width="71.2" height="12.4" rx="2.2" fill="#fff" stroke="#4a4a4a" stroke-width="1.05"/>
<circle cx="712.1" cy="459.3" r="5.3" fill="#f7c6dc" stroke="#4a3840" stroke-width="1.3"/>
<circle cx="725" cy="459.3" r="5.3" fill="#f7c6dc" stroke="#4a3840" stroke-width="1.3"/>
<circle cx="738.6" cy="459.3" r="5.3" fill="#f7c6dc" stroke="#4a3840" stroke-width="1.3"/>
<circle cx="752.1" cy="459.3" r="5.3" fill="#f7c6dc" stroke="#4a3840" stroke-width="1.3"/>
<circle cx="765.6" cy="459.3" r="5.3" fill="#f7c6dc" stroke="#4a3840" stroke-width="1.3"/>
<rect x="703" y="468.4" width="71.2" height="12.4" rx="2.2" fill="#fff" stroke="#4a4a4a" stroke-width="1.05"/>
<circle cx="712.1" cy="474.6" r="5.3" fill="#f7c6dc" stroke="#4a3840" stroke-width="1.3"/>
<circle cx="725" cy="474.6" r="5.3" fill="#f7c6dc" stroke="#4a3840" stroke-width="1.3"/>
<circle cx="738.6" cy="474.6" r="5.3" fill="#f7c6dc" stroke="#4a3840" stroke-width="1.3"/>
<circle cx="752.1" cy="474.6" r="5.3" fill="#f7c6dc" stroke="#4a3840" stroke-width="1.3"/>
<circle cx="765.6" cy="474.6" r="5.3" fill="#f7c6dc" stroke="#4a3840" stroke-width="1.3"/>
<rect x="703" y="484.1" width="71.2" height="12.4" rx="2.2" fill="#fff" stroke="#4a4a4a" stroke-width="1.05"/>
<circle cx="712.1" cy="490.3" r="5.3" fill="#f7c6dc" stroke="#4a3840" stroke-width="1.3"/>
<circle cx="725" cy="490.3" r="5.3" fill="#f7c6dc" stroke="#4a3840" stroke-width="1.3"/>
<circle cx="738.6" cy="490.3" r="5.3" fill="#f7c6dc" stroke="#4a3840" stroke-width="1.3"/>
<circle cx="752.1" cy="490.3" r="5.3" fill="#f7c6dc" stroke="#4a3840" stroke-width="1.3"/>
<circle cx="765.6" cy="490.3" r="5.3" fill="#f7c6dc" stroke="#4a3840" stroke-width="1.3"/>
<rect x="703" y="500.3" width="71.2" height="12.4" rx="2.2" fill="#fff" stroke="#4a4a4a" stroke-width="1.05"/>
<circle cx="712.1" cy="506.5" r="5.3" fill="#f7c6dc" stroke="#4a3840" stroke-width="1.3"/>
<circle cx="725" cy="506.5" r="5.3" fill="#f7c6dc" stroke="#4a3840" stroke-width="1.3"/>
<circle cx="738.6" cy="506.5" r="5.3" fill="#f7c6dc" stroke="#4a3840" stroke-width="1.3"/>
<circle cx="752.1" cy="506.5" r="5.3" fill="#f7c6dc" stroke="#4a3840" stroke-width="1.3"/>
<circle cx="765.6" cy="506.5" r="5.3" fill="#f7c6dc" stroke="#4a3840" stroke-width="1.3"/>
<rect x="703" y="516.1" width="71.2" height="12.4" rx="2.2" fill="#fff" stroke="#4a4a4a" stroke-width="1.05"/>
<circle cx="712.1" cy="522.3" r="5.3" fill="#f7c6dc" stroke="#4a3840" stroke-width="1.3"/>
<circle cx="725" cy="522.3" r="5.3" fill="#f7c6dc" stroke="#4a3840" stroke-width="1.3"/>
<circle cx="738.6" cy="522.3" r="5.3" fill="#f7c6dc" stroke="#4a3840" stroke-width="1.3"/>
<circle cx="752.1" cy="522.3" r="5.3" fill="#f7c6dc" stroke="#4a3840" stroke-width="1.3"/>
<circle cx="765.6" cy="522.3" r="5.3" fill="#f7c6dc" stroke="#4a3840" stroke-width="1.3"/>
<text x="288.25" y="146" font-family='"Liberation Sans", sans-serif' font-size="9.2" font-weight="bold" fill="#262626" stroke="#262626" stroke-width="0.25" textLength="38.9" lengthAdjust="spacing">one_hot</text>
<text x="557.25" y="168.9" font-family='"Liberation Sans", sans-serif' font-size="9.2" font-weight="bold" fill="#262626" stroke="#262626" stroke-width="0.25" textLength="38.9" lengthAdjust="spacing">one_hot</text>
<text x="194.25" y="451.3" font-family='"Liberation Sans", sans-serif' font-size="9.2" font-weight="bold" fill="#262626" stroke="#262626" stroke-width="0.25" textLength="48.2" lengthAdjust="spacing">utterance</text>
<text x="199.55" y="463.7" font-family='"Liberation Sans", sans-serif' font-size="9.2" font-weight="bold" fill="#262626" stroke="#262626" stroke-width="0.25" textLength="38.6" lengthAdjust="spacing">content</text>
<text x="265.95" y="450.6" font-family='"Liberation Sans", sans-serif' font-size="9.2" font-weight="bold" fill="#262626" stroke="#262626" stroke-width="0.25" textLength="40.4" lengthAdjust="spacing">emotion</text>
<text x="274.85" y="462.8" font-family='"Liberation Sans", sans-serif' font-size="9.2" font-weight="bold" fill="#262626" stroke="#262626" stroke-width="0.25" textLength="23.7" lengthAdjust="spacing">label</text>
<text x="315.45" y="434.4" font-family='"Liberation Sans", sans-serif' font-size="9.2" font-weight="bold" fill="#262626" stroke="#262626" stroke-width="0.25" textLength="40.9" lengthAdjust="spacing">emotion</text>
<text x="316.55" y="446.7" font-family='"Liberation Sans", sans-serif' font-size="9.2" font-weight="bold" fill="#262626" stroke="#262626" stroke-width="0.25" textLength="39.2" lengthAdjust="spacing">one_hot</text>
<text x="352.35" y="484.4" font-family='"Liberation Sans", sans-serif' font-size="9.2" font-weight="bold" fill="#262626" stroke="#262626" stroke-width="0.25" textLength="40.6" lengthAdjust="spacing">emotion</text>
<text x="345.35" y="495.7" font-family='"Liberation Sans", sans-serif' font-size="9.2" font-weight="bold" fill="#262626" stroke="#262626" stroke-width="0.25" textLength="54.6" lengthAdjust="spacing">embedding</text>
<text x="537.05" y="418.9" font-family='"Liberation Sans", sans-serif' font-size="9.2" font-weight="bold" fill="#262626" stroke="#262626" stroke-width="0.25" textLength="34" lengthAdjust="spacing">answer</text>
<text x="537.55" y="431.4" font-family='"Liberation Sans", sans-serif' font-size="9.2" font-weight="bold" fill="#262626" stroke="#262626" stroke-width="0.25" textLength="32.6" lengthAdjust="spacing">source</text>
<text x="593.35" y="457.9" font-family='"Liberation Sans", sans-serif' font-size="9.2" font-weight="bold" fill="#262626" stroke="#262626" stroke-width="0.25" textLength="31.9" lengthAdjust="spacing">source</text>
<text x="590.15" y="469.5" font-family='"Liberation Sans", sans-serif' font-size="9.2" font-weight="bold" fill="#262626" stroke="#262626" stroke-width="0.25" textLength="38.9" lengthAdjust="spacing">one_hot</text>
<text x="653.25" y="484.4" font-family='"Liberation Sans", sans-serif' font-size="9.2" font-weight="bold" fill="#262626" stroke="#262626" stroke-width="0.25" textLength="32" lengthAdjust="spacing">source</text>
<text x="642.35" y="495.7" font-family='"Liberation Sans", sans-serif' font-size="9.2" font-weight="bold" fill="#262626" stroke="#262626" stroke-width="0.25" textLength="54.1" lengthAdjust="spacing">embedding</text>
<text x="8.55" y="282.8" font-family='"Liberation Sans", sans-serif' font-size="7.5" font-weight="bold" fill="#262626" stroke="#262626" stroke-width="0.25" textLength="23.1" lengthAdjust="spacing">SWEM</text>
<text x="136.2" y="166.5" font-family='"Liberation Serif", serif' font-size="9" font-weight="bold" fill="#2a2a2a" stroke="#2a2a2a" stroke-width="0.25" textLength="40.8" lengthAdjust="spacing">First layer</text>
<text x="132.5" y="177.7" font-family='"Liberation Serif", serif' font-size="9" font-weight="bold" fill="#2a2a2a" stroke="#2a2a2a" stroke-width="0.25" textLength="47.3" lengthAdjust="spacing">GRU/LSTM</text>
<text x="47.7" y="180.1" font-family='"Liberation Serif", serif' font-size="9" font-weight="bold" fill="#2a2a2a" stroke="#2a2a2a" stroke-width="0.25" textLength="50" lengthAdjust="spacing">Second layer</text>
<text x="49" y="191.4" font-family='"Liberation Serif", serif' font-size="9" font-weight="bold" fill="#2a2a2a" stroke="#2a2a2a" stroke-width="0.25" textLength="47.3" lengthAdjust="spacing">GRU/LSTM</text>
</svg>
</body></html>
